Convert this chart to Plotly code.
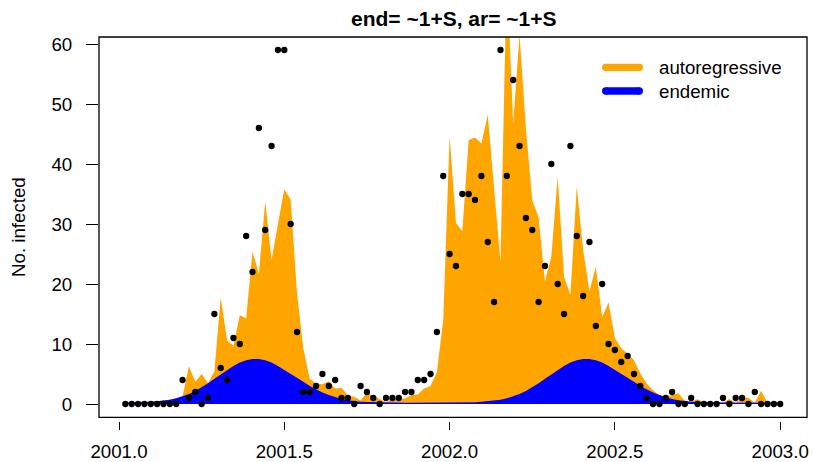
import plotly.graph_objects as go

# Weekly counts, 2001-2002 (52 weeks per year)
weeks = list(range(1, 105))
observed = [
    0, 0, 0, 0, 0, 0, 0, 0, 0, 4,
    1, 2, 0, 1, 15, 6, 4, 11, 10, 28,
    22, 46, 29, 43, 59, 59, 30, 12, 2, 2,
    3, 5, 3, 4, 1, 1, 0, 3, 2, 1,
    0, 1, 1, 1, 2, 2, 4, 4, 5, 12,
    38, 25, 23, 35, 35, 34, 38, 27, 17, 59,
    38, 54, 43, 31, 29, 17, 23, 40, 20, 15,
    43, 28, 18, 27, 13, 20, 10, 9, 7, 8,
    5, 3, 1, 0, 0, 1, 2, 0, 0, 1,
    0, 0, 0, 0, 1, 0, 1, 1, 0, 2,
    0, 0, 0, 0,
]

# Fitted endemic component (seasonal), one value per week
endemic_2001 = [
    0.22, 0.24, 0.27, 0.31, 0.37, 0.45, 0.56, 0.72, 0.95, 1.25,
    1.65, 2.15, 2.75, 3.45, 4.2, 4.95, 5.7, 6.35, 6.9, 7.3,
    7.5, 7.5, 7.3, 6.9, 6.35, 5.7, 5.1, 4.4, 3.7, 3.0,
    2.4, 1.9, 1.5, 1.15, 0.85, 0.63, 0.48, 0.38, 0.32, 0.28,
    0.25, 0.23, 0.22, 0.21, 0.2, 0.2, 0.2, 0.2, 0.2, 0.2,
    0.21, 0.21,
]
endemic_2002 = [
    0.22, 0.24, 0.27, 0.31, 0.37, 0.45, 0.56, 0.72, 0.95, 1.25,
    1.65, 2.15, 2.75, 3.45, 4.2, 4.95, 5.7, 6.35, 6.9, 7.3,
    7.5, 7.5, 7.3, 6.9, 6.35, 5.7, 5.1, 4.4, 3.7, 3.0,
    2.4, 1.9, 1.5, 1.15, 0.85, 0.63, 0.48, 0.38, 0.32, 0.28,
    0.25, 0.23, 0.22, 0.21, 0.2, 0.2, 0.2, 0.2, 0.2, 0.2,
    0.21, 0.21,
]

# Fitted mean = endemic + autoregressive component
fitted_2001 = [
    0.22, 0.24, 0.27, 0.31, 0.37, 0.45, 0.56, 0.72, 0.95, 1.25,
    6.3, 3.7, 5.0, 3.45, 5.4, 17.8, 10.6, 9.7, 14.8, 14.3,
    25.4, 21.7, 33.8, 24.0, 30.0, 35.8, 34.1, 18.5, 9.2, 4.2,
    3.4, 3.3, 3.8, 2.6, 2.7, 1.4, 1.2, 0.6, 1.9, 1.3,
    0.85, 0.3, 0.85, 0.87, 0.9, 1.5, 1.6, 2.6, 3.0, 5.3,
    14.0, 44.6,
]
fitted_2002 = [
    30.2, 28.8, 44.0, 44.4, 43.4, 48.2, 35.5, 23.7, 72.0, 46.8,
    61.5, 46.0, 34.0, 31.1, 20.4, 24.6, 37.9, 21.2, 18.2, 36.3,
    25.7, 18.8, 22.9, 14.5, 16.9, 11.0, 9.3, 8.4, 7.3, 5.1,
    3.4, 2.3, 1.5, 1.15, 1.5, 1.8, 0.48, 0.38, 0.8, 0.28,
    0.25, 0.23, 0.22, 0.85, 0.2, 1.0, 1.04, 0.2, 2.2, 0.2,
    0.21, 0.21,
]

x_ticks = [2001.0, 2001.5, 2002.0, 2002.5, 2003.0]
x_tick_labels = ["2001.0", "2001.5", "2002.0", "2002.5", "2003.0"]
y_ticks = [0, 10, 20, 30, 40, 50, 60]

title_text = "end= ~1+S, ar= ~1+S"
y_title = "No. infected"
legend_labels = ["autoregressive", "endemic"]

ORANGE = "#FFA500"
BLUE = "#0000FF"
FONT = "Liberation Sans, Arial, Helvetica, sans-serif"

time = [2001 + w / 52 for w in weeks]
endemic = endemic_2001 + endemic_2002
fitted = fitted_2001 + fitted_2002

fig = go.Figure()
fig.add_trace(go.Scatter(
    x=time, y=fitted, mode="lines", fill="tozeroy",
    line=dict(width=0, color=ORANGE), fillcolor=ORANGE,
    name=legend_labels[0], showlegend=False, hoverinfo="skip",
))
fig.add_trace(go.Scatter(
    x=time, y=endemic, mode="lines", fill="tozeroy",
    line=dict(width=0, color=BLUE), fillcolor=BLUE,
    name=legend_labels[1], showlegend=False, hoverinfo="skip",
))
fig.add_trace(go.Scatter(
    x=time, y=observed, mode="markers",
    marker=dict(color="black", size=6.3, line=dict(width=0)),
    showlegend=False, cliponaxis=False,
))

# page geometry (pixels)
W_PAGE, H_PAGE = 813, 462
L, R, T, B = 99, 807, 37, 421
PW, PH = R - L, B - T


def px_x(p):
    return (p - L) / PW


def px_y(p):
    return (B - p) / PH


shapes = [
    # frame around the plotting region
    dict(type="rect", xref="paper", yref="paper",
         x0=0, x1=1, y0=px_y(417.3), y1=1,
         line=dict(color="black", width=1.3), fillcolor="rgba(0,0,0,0)",
         layer="above"),
]

# legend keys: thick line with rounded ends
for color, cy in [(ORANGE, 67.3), (BLUE, 91.0)]:
    r = 3.65
    xa, xb = 602 + r, 643 - r
    shapes.append(dict(type="line", xref="paper", yref="paper",
                       x0=px_x(xa), x1=px_x(xb), y0=px_y(cy), y1=px_y(cy),
                       line=dict(color=color, width=2 * r), layer="above"))
    for cx in (xa, xb):
        shapes.append(dict(type="circle", xref="paper", yref="paper",
                           x0=px_x(cx - r), x1=px_x(cx + r),
                           y0=px_y(cy + r), y1=px_y(cy - r),
                           line=dict(width=0), fillcolor=color, layer="above"))

annotations = [
    dict(text="<b>" + title_text + "</b>", xref="paper", yref="paper",
         x=0.5, y=px_y(18.5), xanchor="center", yanchor="middle",
         showarrow=False, font=dict(family=FONT, size=21, color="black")),
    dict(text=y_title, xref="paper", yref="paper", textangle=-90,
         x=px_x(18), y=px_y(227), xanchor="center", yanchor="middle",
         showarrow=False, font=dict(family=FONT, size=18.7, color="black")),
]
for label, cy in [(legend_labels[0], 68.0), (legend_labels[1], 92.0)]:
    annotations.append(dict(text=label, xref="paper", yref="paper",
                            x=px_x(656.5), y=px_y(cy), xanchor="left",
                            yanchor="middle", showarrow=False,
                            font=dict(family=FONT, size=18.7, color="black")))

x_left = 2001 + (L - 119) / 330.6
x_right = 2001 + (R - 119) / 330.6
y_bottom = -(B - 404) / 6
y_top = y_bottom + PH / 6

fig.update_layout(
    width=W_PAGE, height=H_PAGE,
    margin=dict(l=L, r=W_PAGE - R, t=T, b=H_PAGE - B, pad=0, autoexpand=False),
    paper_bgcolor="white", plot_bgcolor="white",
    font=dict(family=FONT, size=18.7, color="black"),
    shapes=shapes, annotations=annotations,
    xaxis=dict(
        range=[x_left, x_right], tickvals=x_ticks, ticktext=x_tick_labels,
        ticks="outside", ticklen=8, tickwidth=1.3, tickcolor="black",
        showline=False, showgrid=False, zeroline=False,
        automargin=False, ticklabelstandoff=6,
        tickfont=dict(family=FONT, size=18.7, color="black"),
    ),
    yaxis=dict(
        range=[y_bottom, y_top], tickvals=y_ticks,
        ticks="outside", ticklen=12, tickwidth=1.3, tickcolor="black",
        showline=False, showgrid=False, zeroline=False,
        automargin=False, ticklabelstandoff=10,
        tickfont=dict(family=FONT, size=18.7, color="black"),
    ),
    showlegend=False,
)

fig.write_html("out.html")
